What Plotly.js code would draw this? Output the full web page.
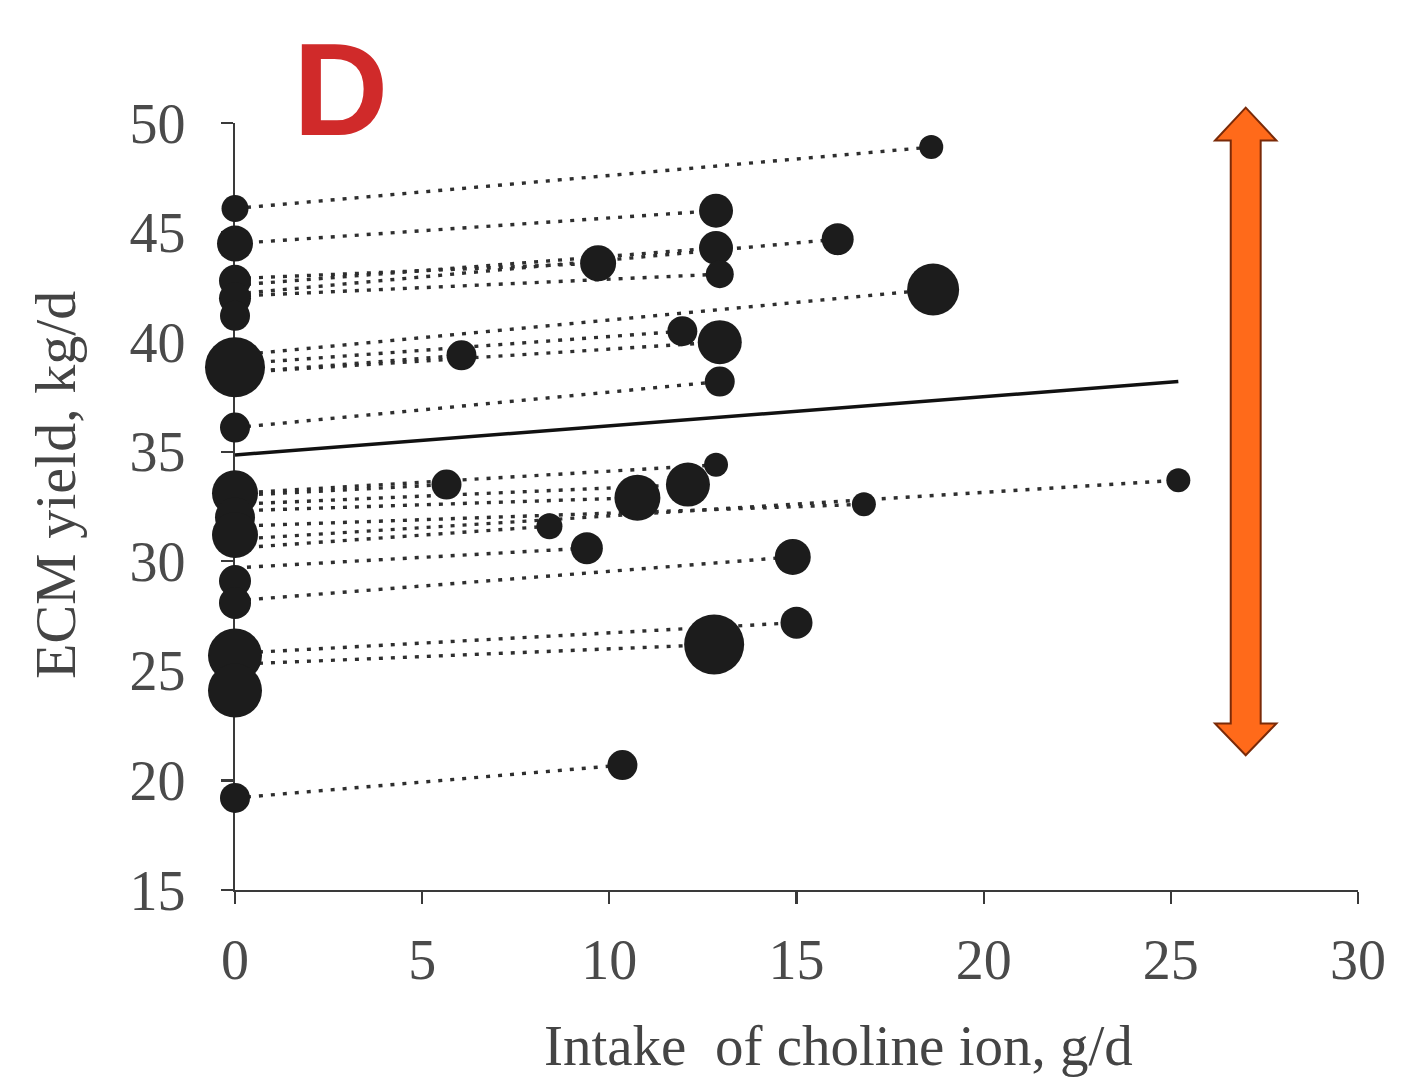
<!DOCTYPE html>
<html>
<head>
<meta charset="utf-8">
<script src="https://cdn.plot.ly/plotly-3.0.1.min.js"></script>
<style>
  html, body { margin: 0; padding: 0; background: #ffffff; }
  #chart { width: 1402px; height: 1078px; }
</style>
</head>
<body>
<div id="chart"></div>
<script>
// Control studies (intake of choline ion = 0 g/d): ECM yield, kg/d and bubble weight
const controlY    = [46.1, 44.5, 42.8, 42.0, 41.2, 38.85, 36.1, 33.1, 32.0, 31.2, 29.1, 28.1, 25.7, 24.1, 19.2];
const controlSize = [27,   36,   32,   32,   30,   60,    30,   46,   40,   46,   32,   32,   54,   54,   30];

// Treatment means: intake of choline ion (g/d), ECM yield (kg/d), bubble weight
const treatX    = [18.6, 12.85, 16.1, 9.7,  12.85, 12.95, 18.65, 11.95, 12.95, 6.05, 12.95, 12.85, 12.1, 5.65, 10.75, 16.8, 25.2, 8.4,  9.4,  14.9, 15.0, 12.8, 10.35];
const treatY    = [48.9, 46.0,  44.7, 43.6, 44.3,  43.1,  42.4,  40.5,  40.0,  39.4, 38.2,  34.4,  33.5, 33.5, 32.9,  32.6, 33.7, 31.6, 30.6, 30.2, 27.2, 26.2, 20.7];
const treatSize = [24,   34,    32,   36,   34,    28,    52,    30,    44,    30,   30,    24,    44,   30,   46,    24,   24,   26,   32,   36,   32,   60,   30];
// ECM yield of the matching control for each treatment (start of each dotted line)
const pairedControlY = [46.1, 44.5, 42.2, 42.9, 42.6, 42.1, 39.4, 39.0, 38.6, 38.6, 36.1, 33.1, 32.6, 33.0, 32.3, 31.6, 31.0, 30.6, 29.7, 28.2, 25.8, 25.3, 19.2];

// Fitted regression line
const fitX = [0, 25.2];
const fitY = [34.85, 38.2];

const xTicks = [0, 5, 10, 15, 20, 25, 30];
const yTicks = [15, 20, 25, 30, 35, 40, 45, 50];

// Build dotted connector segments
const segX = [], segY = [];
for (let i = 0; i < treatX.length; i++) {
  segX.push(0, treatX[i], null);
  segY.push(pairedControlY[i], treatY[i], null);
}

const dotColor = '#1c1c1c';
const traces = [
  {
    type: 'scatter', mode: 'lines', x: segX, y: segY,
    line: { color: '#2e2e2e', width: 3.4, dash: '4px,8px' },
    hoverinfo: 'skip', showlegend: false, cliponaxis: false
  },
  {
    type: 'scatter', mode: 'lines', x: fitX, y: fitY,
    line: { color: '#111111', width: 3.5 },
    showlegend: false, cliponaxis: false
  },
  {
    type: 'scatter', mode: 'markers',
    x: controlY.map(() => 0), y: controlY,
    marker: { color: dotColor, size: controlSize, opacity: 1, line: { width: 0 } },
    showlegend: false, cliponaxis: false
  },
  {
    type: 'scatter', mode: 'markers',
    x: treatX, y: treatY,
    marker: { color: dotColor, size: treatSize, opacity: 1, line: { width: 0 } },
    showlegend: false, cliponaxis: false
  }
];

const serif = 'Liberation Serif, Times New Roman, serif';
const axisCommon = {
  showgrid: false, zeroline: false, showline: true,
  linecolor: '#3a3a3a', linewidth: 2.2,
  ticks: 'outside', ticklen: 12, tickwidth: 2.2, tickcolor: '#3a3a3a',
  tickfont: { family: serif, size: 56, color: '#4a4a4a' },
  layer: 'below traces', fixedrange: true
};

// Orange double-headed arrow (decoration), in paper coordinates
const ax = 27.0 / 30, shaftHalf = 0.4 / 30, headHalf = 0.82 / 30;
const py = v => (v - 15) / 35;
const topTip = py(50.7), topBase = py(49.2), botBase = py(22.6), botTip = py(21.15);
const arrowPath =
  'M ' + ax + ' ' + topTip +
  ' L ' + (ax + headHalf) + ' ' + topBase +
  ' L ' + (ax + shaftHalf) + ' ' + topBase +
  ' L ' + (ax + shaftHalf) + ' ' + botBase +
  ' L ' + (ax + headHalf) + ' ' + botBase +
  ' L ' + ax + ' ' + botTip +
  ' L ' + (ax - headHalf) + ' ' + botBase +
  ' L ' + (ax - shaftHalf) + ' ' + botBase +
  ' L ' + (ax - shaftHalf) + ' ' + topBase +
  ' L ' + (ax - headHalf) + ' ' + topBase + ' Z';

const layout = {
  width: 1402, height: 1078,
  paper_bgcolor: '#ffffff', plot_bgcolor: '#ffffff',
  margin: { l: 235, r: 44, t: 123, b: 188 },
  showlegend: false,
  xaxis: Object.assign({}, axisCommon, {
    range: [0, 30], tickvals: xTicks, ticktext: xTicks.map(String),
    ticklabelstandoff: 8
  }),
  yaxis: Object.assign({}, axisCommon, {
    range: [15, 50], tickvals: yTicks, ticktext: yTicks.map(String),
    ticklabelstandoff: 24
  }),
  shapes: [
    {
      type: 'path', xref: 'paper', yref: 'paper', path: arrowPath,
      fillcolor: '#ff6a1a', line: { color: '#7a2a08', width: 2 }, layer: 'above'
    }
  ],
  annotations: [
    {
      text: 'Intake  of choline ion, g/d', xref: 'paper', yref: 'paper',
      x: (838 - 235) / 1123, y: -(1045 - 890) / 767, xanchor: 'center', yanchor: 'middle',
      showarrow: false, font: { family: serif, size: 57, color: '#444444' }
    },
    {
      text: 'ECM yield, kg/d', xref: 'paper', yref: 'paper',
      x: -(235 - 55) / 1123, y: (890 - 485) / 767, xanchor: 'center', yanchor: 'middle',
      textangle: -90, showarrow: false, font: { family: serif, size: 58, color: '#444444' }
    },
    {
      text: '<b>D</b>', xref: 'paper', yref: 'paper',
      x: (340 - 235) / 1123, y: (890 - 90) / 767, xanchor: 'center', yanchor: 'middle',
      showarrow: false, font: { family: 'Liberation Sans, Arial, sans-serif', size: 132, color: '#d02a2a' }
    }
  ]
};

Plotly.newPlot('chart', traces, layout, { displayModeBar: false, staticPlot: true });
</script>
</body>
</html>
